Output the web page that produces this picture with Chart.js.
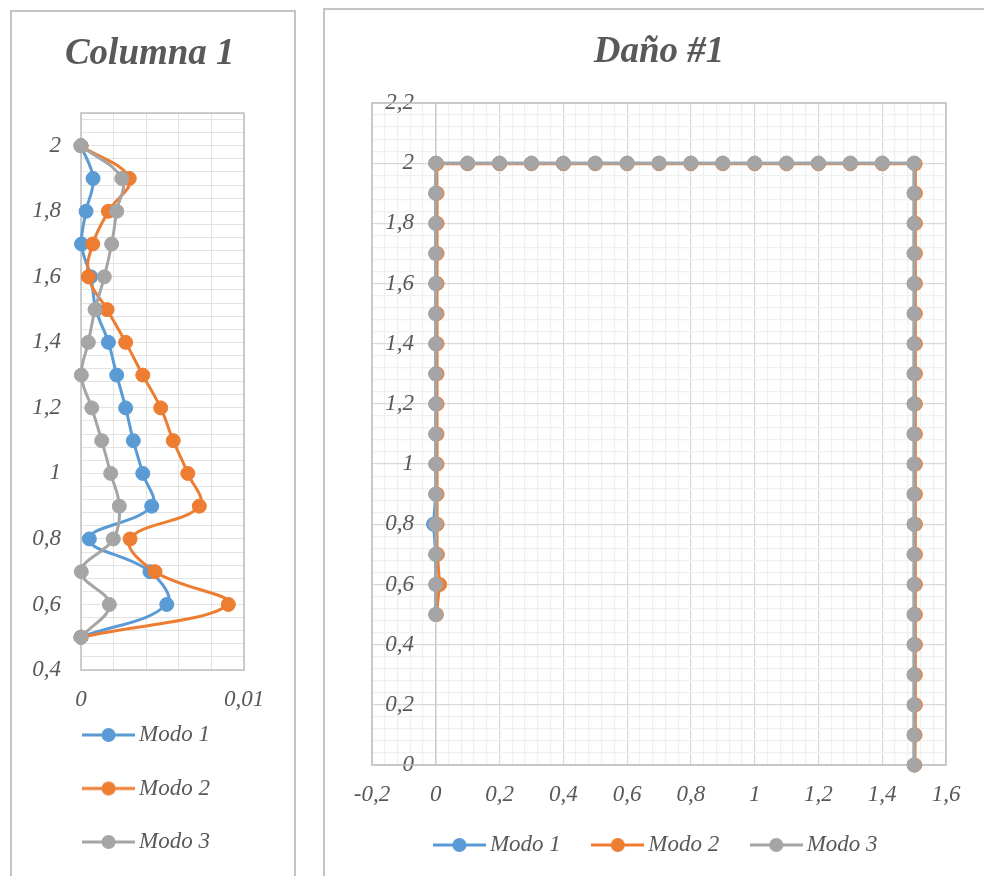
<!DOCTYPE html>
<html>
<head>
<meta charset="utf-8">
<script src="https://cdn.jsdelivr.net/npm/chart.js@4.4.0/dist/chart.umd.min.js"></script>
<style>
html,body{margin:0;padding:0;background:#fff;overflow:hidden;width:984px;height:876px;}
.panel{position:absolute;border:2px solid #c4c4c4;background:#fff;overflow:hidden;}
#p1{left:10px;top:10px;width:282px;height:880px;}
#p2{left:323px;top:8px;width:700px;height:880px;}
canvas{position:absolute;left:0;top:0;}
</style>
</head>
<body>
<div class="panel" id="p1"><canvas id="c1" width="282" height="864"></canvas></div>
<div class="panel" id="p2"><canvas id="c2" width="660" height="866"></canvas></div>
<script>
// ---------- shared ----------
const seriesNames = ['Modo 1', 'Modo 2', 'Modo 3'];
const seriesColors = ['#5b9bd5', '#ed7d31', '#a5a5a5'];

// ---------- Columna 1 (left chart) ----------
const col1Title = 'Columna 1';
const col1Heights = [2.0, 1.9, 1.8, 1.7, 1.6, 1.5, 1.4, 1.3, 1.2, 1.1, 1.0, 0.9, 0.8, 0.7, 0.6, 0.5];
const col1Modo1 = [0, 0.00074, 0.00031, 0.00003, 0.0006, 0.00092, 0.00168, 0.00219, 0.00274, 0.00321, 0.00379, 0.00434, 0.00051, 0.00423, 0.00526, 0];
const col1Modo2 = [0, 0.00296, 0.00168, 0.00072, 0.00045, 0.0016, 0.00274, 0.00379, 0.00489, 0.00566, 0.00655, 0.00726, 0.00301, 0.00454, 0.00904, 0];
const col1Modo3 = [0, 0.0025, 0.00219, 0.00188, 0.00143, 0.00086, 0.00045, 0.00002, 0.00066, 0.00127, 0.00182, 0.00235, 0.00198, 0.00002, 0.00174, 0];
const col1XTickLabels = [0, 0.01];
const col1YTickLabels = [0.4, 0.6, 0.8, 1, 1.2, 1.4, 1.6, 1.8, 2];

// ---------- Daño #1 (right chart) ----------
const danoTitle = 'Daño #1';
const dano1X = [0,0,0,-0.007,0,0,0,0,0,0,0,0,0,0,0,0, 0.1,0.2,0.3,0.4,0.5,0.6,0.7,0.8,0.9,1.0,1.1,1.2,1.3,1.4,1.5, 1.5,1.5,1.5,1.5,1.5,1.5,1.5,1.5,1.5,1.5,1.5,1.5,1.5,1.5,1.5,1.5,1.5,1.5,1.5,1.5];
const dano1Y = [0.5,0.6,0.7,0.8,0.9,1.0,1.1,1.2,1.3,1.4,1.5,1.6,1.7,1.8,1.9,2.0, 2.0,2.0,2.0,2.0,2.0,2.0,2.0,2.0,2.0,2.0,2.0,2.0,2.0,2.0,2.0, 1.9,1.8,1.7,1.6,1.5,1.4,1.3,1.2,1.1,1.0,0.9,0.8,0.7,0.6,0.5,0.4,0.3,0.2,0.1,0];
const dano2X = [0.002,0.012,0.005,0.004,0.004,0.004,0.004,0.004,0.004,0.004,0.004,0.004,0.004,0.004,0.004,0.003, 0.1,0.2,0.3,0.4,0.5,0.6,0.7,0.8,0.9,1.0,1.1,1.2,1.3,1.4,1.503, 1.504,1.504,1.504,1.504,1.504,1.504,1.504,1.504,1.504,1.504,1.504,1.504,1.504,1.504,1.504,1.504,1.504,1.504,1.503,1.502];
const dano2Y = [0.5,0.6,0.7,0.8,0.9,1.0,1.1,1.2,1.3,1.4,1.5,1.6,1.7,1.8,1.9,1.998, 1.998,1.998,1.998,1.998,1.998,1.998,1.998,1.998,1.998,1.998,1.998,1.998,1.998,1.998,1.998, 1.9,1.8,1.7,1.6,1.5,1.4,1.3,1.2,1.1,1.0,0.9,0.8,0.7,0.6,0.5,0.4,0.3,0.2,0.1,0];
const dano3X = [0,0,0,0,0,0,0,0,0,0,0,0,0,0,0,0, 0.1,0.2,0.3,0.4,0.5,0.6,0.7,0.8,0.9,1.0,1.1,1.2,1.3,1.4,1.5, 1.5,1.5,1.5,1.5,1.5,1.5,1.5,1.5,1.5,1.5,1.5,1.5,1.5,1.5,1.5,1.5,1.5,1.5,1.5,1.5];
const dano3Y = [0.5,0.6,0.7,0.8,0.9,1.0,1.1,1.2,1.3,1.4,1.5,1.6,1.7,1.8,1.9,2.0, 2.0,2.0,2.0,2.0,2.0,2.0,2.0,2.0,2.0,2.0,2.0,2.0,2.0,2.0,2.0, 1.9,1.8,1.7,1.6,1.5,1.4,1.3,1.2,1.1,1.0,0.9,0.8,0.7,0.6,0.5,0.4,0.3,0.2,0.1,0];
const danoXTickLabels = [-0.2, 0, 0.2, 0.4, 0.6, 0.8, 1, 1.2, 1.4, 1.6];
const danoYTickLabels = [0, 0.2, 0.4, 0.6, 0.8, 1, 1.2, 1.4, 1.6, 1.8, 2, 2.2];

// ---------- helpers ----------
const FONT = "'Liberation Serif', 'Times New Roman', serif";
const TXT = '#595959';
Chart.defaults.font.family = FONT;
Chart.defaults.color = TXT;

function fmt(v) { return String(+v.toFixed(4)).replace('.', ','); }
function isIn(v, arr) { return arr.some(a => Math.abs(a - v) < 1e-9); }
function gridTicks(min, max, step) {
  const out = [];
  const n = Math.floor((max - min) / step + 1e-9);
  for (let i = 0; i <= n; i++) out.push({value: Math.round((min + i * step) * 1e6) / 1e6});
  if (Math.abs(out[out.length - 1].value - max) > 1e-9) out.push({value: max});
  return out;
}
function pairs(xs, ys) { return xs.map((x, i) => ({x: x, y: ys[i]})); }
function legendIcon(color) {
  const c = document.createElement('canvas');
  c.width = 53; c.height = 16;
  const g = c.getContext('2d');
  g.strokeStyle = color; g.lineWidth = 3;
  g.beginPath(); g.moveTo(0, 8); g.lineTo(53, 8); g.stroke();
  g.fillStyle = color;
  g.beginPath(); g.arc(26.5, 8, 7, 0, Math.PI * 2); g.fill();
  return c;
}
const icons = seriesColors.map(legendIcon);
function legendLabels(chart) {
  return chart.data.datasets.map((ds, i) => ({
    text: ds.label, pointStyle: icons[i], fillStyle: ds.borderColor,
    strokeStyle: ds.borderColor, lineWidth: 0, hidden: false, datasetIndex: i, fontColor: TXT
  }));
}
const plotBorder = {
  id: 'plotBorder',
  beforeDatasetsDraw(chart) {
    const {ctx, chartArea: a} = chart;
    ctx.save();
    ctx.strokeStyle = '#bfbfbf';
    ctx.lineWidth = 1.5;
    ctx.strokeRect(a.left, a.top, a.right - a.left, a.bottom - a.top);
    ctx.restore();
  }
};
function makeDataset(label, data, i, tension) {
  return {
    label: label, data: data, showLine: true, tension: tension,
    borderColor: seriesColors[i], backgroundColor: seriesColors[i],
    pointBackgroundColor: seriesColors[i], pointBorderColor: seriesColors[i],
    borderWidth: 3, pointRadius: 7, pointBorderWidth: 1, pointHoverRadius: 7,
    order: 3 - i, clip: false
  };
}
const tickFont = {family: FONT, size: 23, style: 'italic'};
const titleFont = {family: FONT, size: 37, style: 'italic', weight: 'bold'};
// gap between a y label and the vertical axis that crosses at x = 0
const Y_LABEL_GAP = '   \u2009';

// ---------- left chart ----------
new Chart(document.getElementById('c1'), {
  type: 'scatter',
  data: {
    datasets: [
      makeDataset(seriesNames[0], pairs(col1Modo1, col1Heights), 0, 0.4),
      makeDataset(seriesNames[1], pairs(col1Modo2, col1Heights), 1, 0.4),
      makeDataset(seriesNames[2], pairs(col1Modo3, col1Heights), 2, 0.4)
    ]
  },
  options: {
    responsive: false, animation: false, events: [],
    layout: {padding: {left: 0, right: 6.5, top: 0, bottom: 12.5}},
    plugins: {
      tooltip: {enabled: false},
      title: {display: true, text: col1Title, color: TXT, font: titleFont, padding: {top: 20.5, bottom: 36.1}},
      legend: {
        position: 'bottom',
        labels: {usePointStyle: true, pointStyleWidth: 38, padding: 30.5, color: TXT,
                 font: tickFont, generateLabels: legendLabels}
      }
    },
    scales: {
      x: {
        type: 'linear', min: 0, max: 0.01,
        afterBuildTicks: s => { s.ticks = gridTicks(0, 0.01, 0.002); },
        afterFit: s => { s.height = 23; },
        grid: {color: '#e3e3e3', drawTicks: false, lineWidth: 1},
        border: {display: false},
        ticks: {autoSkip: false, maxRotation: 0, mirror: true, padding: -43.8, font: tickFont, color: TXT,
                callback: v => isIn(v, col1XTickLabels) ? fmt(v) : ''}
      },
      y: {
        type: 'linear', min: 0.4, max: 2.1,
        afterBuildTicks: s => { s.ticks = gridTicks(0.4, 2.1, 0.04); },
        afterFit: s => { s.width = 69; },
        grid: {color: '#e3e3e3', drawTicks: false, lineWidth: 1},
        border: {display: false},
        ticks: {autoSkip: false, padding: 20, font: tickFont, color: TXT,
                callback: v => isIn(v, col1YTickLabels) ? fmt(v) : ''}
      },
      ySpacer: {
        type: 'linear', position: 'right', display: true,
        afterFit: s => { s.width = 43.5; },
        grid: {display: false, drawTicks: false}, border: {display: false},
        ticks: {display: false}
      }
    }
  },
  plugins: [plotBorder]
});

// ---------- right chart ----------
function majorColor(labels) {
  return ctx => (ctx.tick && isIn(ctx.tick.value, labels)) ? '#d9d9d9' : '#f0f0f0';
}
new Chart(document.getElementById('c2'), {
  type: 'scatter',
  data: {
    datasets: [
      makeDataset(seriesNames[0], pairs(dano1X, dano1Y), 0, 0),
      makeDataset(seriesNames[1], pairs(dano2X, dano2Y), 1, 0),
      makeDataset(seriesNames[2], pairs(dano3X, dano3Y), 2, 0)
    ]
  },
  options: {
    responsive: false, animation: false, events: [],
    layout: {padding: {left: 47, right: 39, top: 0, bottom: 9.5}},
    plugins: {
      tooltip: {enabled: false},
      title: {display: true, text: danoTitle, color: TXT, font: titleFont, padding: {top: 20, bottom: 28.6}},
      legend: {
        position: 'bottom',
        labels: {usePointStyle: true, pointStyleWidth: 38, padding: 38, color: TXT,
                 font: tickFont, generateLabels: legendLabels}
      }
    },
    scales: {
      x: {
        type: 'linear', position: 'bottom', min: -0.2, max: 1.6,
        afterBuildTicks: s => { s.ticks = gridTicks(-0.2, 1.6, 0.04); },
        afterFit: s => { s.height = 30.5; },
        grid: {color: majorColor(danoXTickLabels), drawTicks: false, lineWidth: 1.2},
        border: {display: false},
        ticks: {autoSkip: false, maxRotation: 0, mirror: true, padding: -43.8, font: tickFont, color: TXT,
                callback: v => isIn(v, danoXTickLabels) ? fmt(v) : ''}
      },
      y: {
        type: 'linear', position: {x: 0}, min: 0, max: 2.2,
        afterBuildTicks: s => { s.ticks = gridTicks(0, 2.2, 0.04); },
        grid: {color: majorColor(danoYTickLabels), drawTicks: false, lineWidth: 1.2},
        border: {display: true, color: '#cccccc', width: 1.5},
        ticks: {autoSkip: false, padding: 20, font: tickFont, color: TXT,
                callback: v => isIn(v, danoYTickLabels) ? fmt(v) + Y_LABEL_GAP : ''}
      }
    }
  },
  plugins: [plotBorder]
});
</script>
</body>
</html>
